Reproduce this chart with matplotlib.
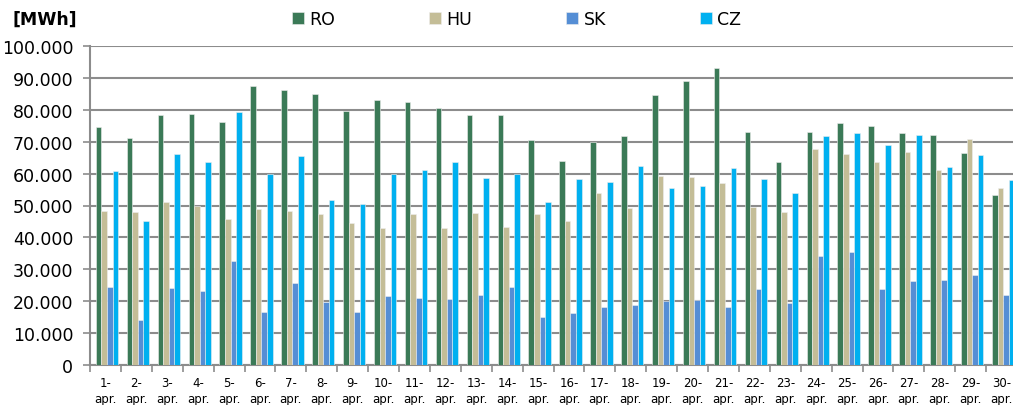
import numpy as np
import matplotlib.pyplot as plt
from matplotlib.ticker import FuncFormatter

## data (thousand MWh)
days = [f"{d}-\napr." for d in range(1, 31)]
ro = [74.6, 71.1, 78.3, 78.6, 76.3, 87.4, 86.2, 84.9, 79.5, 83.0,
      82.3, 80.5, 78.3, 78.3, 70.4, 64.1, 69.9, 71.7, 84.5, 88.9,
      93.0, 73.0, 63.6, 73.1, 76.0, 74.8, 72.8, 72.0, 66.4, 53.4]
hu = [48.3, 48.1, 51.2, 49.8, 45.8, 48.9, 48.3, 47.3, 44.5, 42.9,
      47.3, 43.0, 47.7, 43.4, 47.3, 45.1, 53.9, 49.3, 59.3, 58.9,
      57.1, 49.5, 48.0, 67.7, 66.2, 63.7, 66.8, 61.2, 70.8, 55.6]
sk = [24.6, 14.2, 24.2, 23.3, 32.7, 16.6, 25.8, 19.6, 16.7, 21.5,
      21.1, 20.7, 22.1, 24.3, 15.2, 16.2, 18.1, 18.9, 20.1, 20.4,
      18.2, 23.8, 19.5, 34.2, 35.3, 23.7, 26.3, 26.5, 28.2, 22.1]
cz = [60.8, 45.1, 66.3, 63.5, 79.4, 59.8, 65.6, 51.7, 50.5, 59.8,
      61.1, 63.5, 58.6, 60.0, 51.0, 58.2, 57.4, 62.3, 55.4, 56.0,
      61.8, 58.2, 53.8, 71.7, 72.8, 69.0, 72.0, 62.0, 65.9, 58.0]
series = {'RO': ro, 'HU': hu, 'SK': sk, 'CZ': cz}
colors = ['#3b7a57', '#c4bd97', '#558ed5', '#00b0f0']

fig = plt.figure(figsize=(10.13, 4.06), dpi=100)
ax = fig.add_axes([90/1013, 40/406, 927/1013, 319/406])

x = np.arange(len(days))
w = 0.18
for i, (name, vals) in enumerate(series.items()):
    ax.bar(x - 0.27 + i*w + 0.05, np.array(vals)*1000, width=w, color=colors[i],
           edgecolor='#eeeeee', linewidth=0.4, label=name, zorder=3)

ax.set_xlim(-0.5, len(days) - 0.5)
ax.set_ylim(0, 100000)
ax.set_yticks(np.arange(0, 100001, 10000))
ax.yaxis.set_major_formatter(FuncFormatter(lambda v, p: f"{int(v):,}".replace(',', '.')))
ax.grid(axis='y', color='#8c8c8c', linewidth=1.5, zorder=0)
ax.set_axisbelow(True)

ax.set_xticks(np.arange(-0.5, len(days), 1))
ax.set_xticklabels([])
ax.set_xticks(x, minor=True)
ax.set_xticklabels(days, minor=True, fontsize=8.5, linespacing=1.3)
ax.tick_params(axis='x', which='major', length=5, color='#8c8c8c', width=1.2)
ax.tick_params(axis='x', which='minor', length=0, pad=8)
ax.tick_params(axis='y', length=5, color='#8c8c8c', width=1.2, labelsize=12.5, pad=7)

for s in ['top', 'right']:
    ax.spines[s].set_visible(False)
ax.spines['left'].set_color('#8c8c8c')
ax.spines['left'].set_linewidth(1.5)
ax.spines['bottom'].set_color('#8c8c8c')
ax.spines['bottom'].set_linewidth(1.5)

fig.text(12/1013, 1 - 20/406, '[MWh]', fontsize=12.5, fontweight='bold', va='center')
fig.legend(loc='center', bbox_to_anchor=(0.51, 1 - 20/406), ncol=4, frameon=False,
           fontsize=12.5, handlelength=0.7, handleheight=0.7, handletextpad=0.3,
           columnspacing=5.4)

fig.savefig('out.png', dpi=100)
